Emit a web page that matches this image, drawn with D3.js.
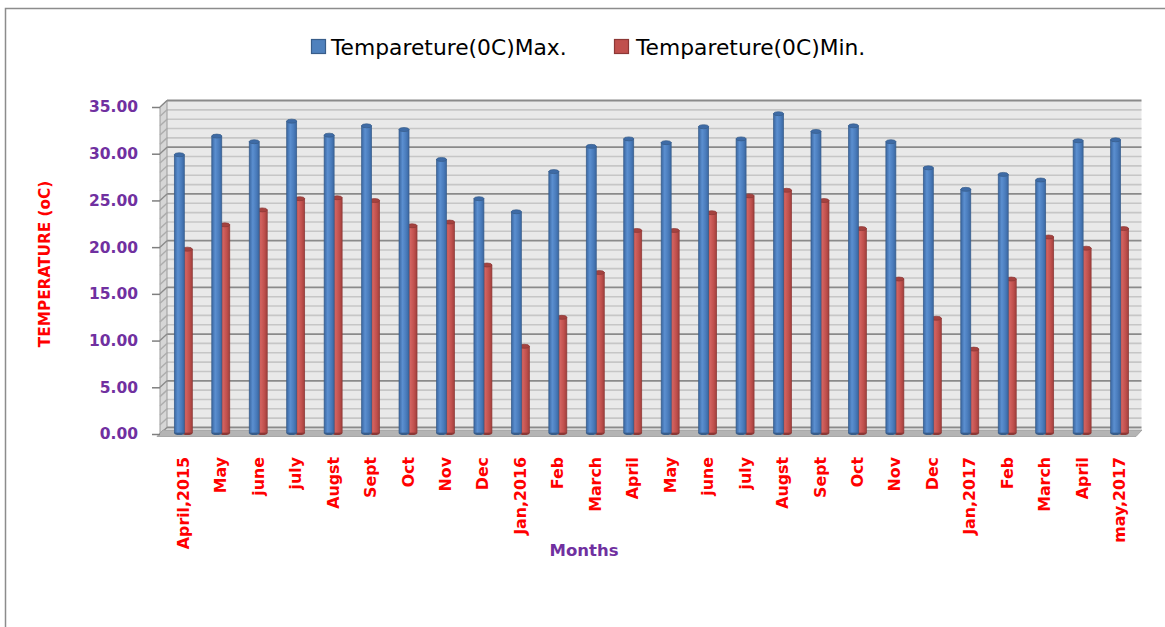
<!DOCTYPE html>
<html>
<head>
<meta charset="utf-8">
<script src="https://cdn.jsdelivr.net/npm/d3@7"></script>
<style>
  html, body { margin: 0; padding: 0; background: #fff; }
  svg { display: block; }
</style>
</head>
<body>
<svg id="chart" width="1165" height="627"></svg>
<script>
const categories = ["April,2015","May","june","july","Augst","Sept","Oct","Nov","Dec","Jan,2016","Feb","March","April","May","june","july","Augst","Sept","Oct","Nov","Dec","Jan,2017","Feb","March","April","may,2017"];
const maxTemp = [30.1, 32.1, 31.5, 33.7, 32.2, 33.2, 32.8, 29.6, 25.4, 24.0, 28.3, 31.0, 31.8, 31.4, 33.1, 31.8, 34.5, 32.6, 33.2, 31.5, 28.7, 26.4, 28.0, 27.4, 31.6, 31.7];
const minTemp = [20.0, 22.6, 24.2, 25.4, 25.5, 25.2, 22.5, 22.9, 18.3, 9.6, 12.7, 17.5, 22.0, 22.0, 23.9, 25.7, 26.3, 25.2, 22.2, 16.8, 12.6, 9.3, 16.8, 21.3, 20.1, 22.2];
const yTicks = [0, 5, 10, 15, 20, 25, 30, 35];
const seriesNames = ["Tempareture(0C)Max.", "Tempareture(0C)Min."];
const yTitle = "TEMPERATURE (oC)";
const xTitle = "Months";

const svg = d3.select("#chart");
const FONT = "'DejaVu Sans', sans-serif";
const PURPLE = "#7030a0";

// outer frame
svg.append("rect").attr("x", 5.5).attr("y", 8.5).attr("width", 1300).attr("height", 800)
  .attr("fill", "#fff").attr("stroke", "#8c8c8c").attr("stroke-width", 1.5);

const y = d3.scaleLinear().domain([0, 35]).range([434, 107]);
const x = d3.scaleBand().domain(d3.range(categories.length)).range([164.6, 1138.3]).padding(0);
const DX = 7, DY = -6.5;
const axisX = 160;
const wallL = axisX + DX, wallR = 1141.5;

const defs = svg.append("defs");
function cylGrad(id, dark, mid, light) {
  const g = defs.append("linearGradient").attr("id", id).attr("x1", 0).attr("x2", 1).attr("y1", 0).attr("y2", 0);
  g.append("stop").attr("offset", "0%").attr("stop-color", dark);
  g.append("stop").attr("offset", "35%").attr("stop-color", light);
  g.append("stop").attr("offset", "70%").attr("stop-color", mid);
  g.append("stop").attr("offset", "100%").attr("stop-color", dark);
}
cylGrad("gBlue", "#3a66a0", "#4a7cbc", "#5b8fd0");
cylGrad("gRed", "#a03f3c", "#c0504d", "#d2625f");

// back wall
const wall = svg.append("g");
wall.append("rect").attr("x", wallL).attr("y", y(35) + DY).attr("width", wallR - wallL)
  .attr("height", y(0) - y(35)).attr("fill", "#e9e9e9");
const gridVals = d3.range(0, 36, 1);
wall.selectAll("line.minor").data(gridVals.filter(v => v % 5 !== 0)).join("line")
  .attr("x1", wallL).attr("x2", wallR)
  .attr("y1", v => y(v) + DY).attr("y2", v => y(v) + DY)
  .attr("stroke", "#c6c6c6").attr("stroke-width", 1.6);
wall.selectAll("line.major").data(gridVals.filter(v => v % 5 === 0)).join("line")
  .attr("x1", wallL).attr("x2", wallR)
  .attr("y1", v => y(v) + DY).attr("y2", v => y(v) + DY)
  .attr("stroke", "#8a8a8a").attr("stroke-width", 1.8);

// left side wall
const side = svg.append("g");
side.append("polygon")
  .attr("points", [[axisX, y(0)], [axisX, y(35)], [wallL, y(35) + DY], [wallL, y(0) + DY]].map(p => p.join(",")).join(" "))
  .attr("fill", "#d6d6d6").attr("stroke", "#9a9a9a").attr("stroke-width", 1);
side.selectAll("line").data(gridVals).join("line")
  .attr("x1", axisX).attr("x2", wallL)
  .attr("y1", v => y(v)).attr("y2", v => y(v) + DY)
  .attr("stroke", v => v % 5 === 0 ? "#8a8a8a" : "#acacac").attr("stroke-width", 1.4);

// floor
svg.append("polygon")
  .attr("points", [[157, 436.5], [1136, 436.5], [1142, 430], [163, 430]].map(p => p.join(",")).join(" "))
  .attr("fill", "#b4b4b4").attr("stroke", "#9c9c9c").attr("stroke-width", 0.8);

// bars
const BW = 10;
function drawSeries(vals, off, grad, stroke, top) {
  const g = svg.append("g");
  const cols = g.selectAll("g").data(vals).join("g")
    .attr("transform", (d, i) => `translate(${x(i) + x.bandwidth() / 2 + off},0)`);
  cols.append("ellipse").attr("cx", 0).attr("cy", y(0) - 1).attr("rx", BW / 2).attr("ry", 2)
    .attr("fill", stroke);
  cols.append("rect").attr("x", -BW / 2).attr("width", BW)
    .attr("y", d => y(d) + 2).attr("height", d => y(0) - 1 - (y(d) + 2))
    .attr("fill", `url(#${grad})`).attr("stroke", stroke).attr("stroke-width", 0.7);
  cols.append("ellipse").attr("cx", 0).attr("cy", d => y(d) + 2).attr("rx", BW / 2).attr("ry", 2)
    .attr("fill", top).attr("stroke", stroke).attr("stroke-width", 0.7);
}
drawSeries(minTemp, 4, "gRed", "#8c3836", "#a5423f");
drawSeries(maxTemp, -4, "gBlue", "#385d8a", "#3e6ba6");

// y axis
const yAxis = svg.append("g").attr("transform", `translate(${axisX},0)`)
  .call(d3.axisLeft(y).tickValues(yTicks).tickFormat(d3.format(".2f")).tickSize(8).tickPadding(14));
yAxis.select(".domain").remove();
yAxis.selectAll(".tick line").attr("stroke", "#7f7f7f").attr("stroke-width", 1.5);
yAxis.selectAll(".tick text").attr("fill", PURPLE).attr("font-family", FONT)
  .attr("font-weight", "bold").attr("font-size", "15.5px");

// x axis
const xAxis = svg.append("g").attr("transform", `translate(0,${y(0)})`)
  .call(d3.axisBottom(x).tickSize(0).tickFormat(i => categories[i]));
xAxis.select(".domain").remove();
xAxis.selectAll(".tick text")
  .attr("transform", "rotate(-90)")
  .attr("x", -23).attr("y", 0).attr("dy", "0.35em")
  .attr("text-anchor", "end")
  .attr("fill", "#ff0000").attr("font-family", FONT)
  .attr("font-weight", "bold").attr("font-size", "15.8px");

// axis titles
svg.append("text").attr("transform", "translate(50,264) rotate(-90)")
  .attr("text-anchor", "middle").attr("fill", "#ff0000")
  .attr("font-family", FONT).attr("font-weight", "bold").attr("font-size", "15.3px")
  .text(yTitle);
svg.append("text").attr("x", 584).attr("y", 556).attr("text-anchor", "middle")
  .attr("fill", PURPLE).attr("font-family", FONT).attr("font-weight", "bold").attr("font-size", "16.5px")
  .text(xTitle);

// legend
const legendItems = [
  { name: seriesNames[0], fill: "#4f81bd", stroke: "#385d8a", x: 311 },
  { name: seriesNames[1], fill: "#c0504d", stroke: "#8c3836", x: 614 }
];
const lg = svg.append("g").selectAll("g").data(legendItems).join("g")
  .attr("transform", d => `translate(${d.x},39)`);
lg.append("rect").attr("x", 0.5).attr("y", 0.5).attr("width", 14).attr("height", 14)
  .attr("fill", d => d.fill).attr("stroke", d => d.stroke).attr("stroke-width", 1.2);
lg.append("text").attr("x", d => d.x === 311 ? 20 : 22).attr("y", 8).attr("dy", "0.35em")
  .attr("font-family", FONT).attr("font-size", "21.8px").attr("fill", "#000")
  .text(d => d.name);
</script>
</body>
</html>
